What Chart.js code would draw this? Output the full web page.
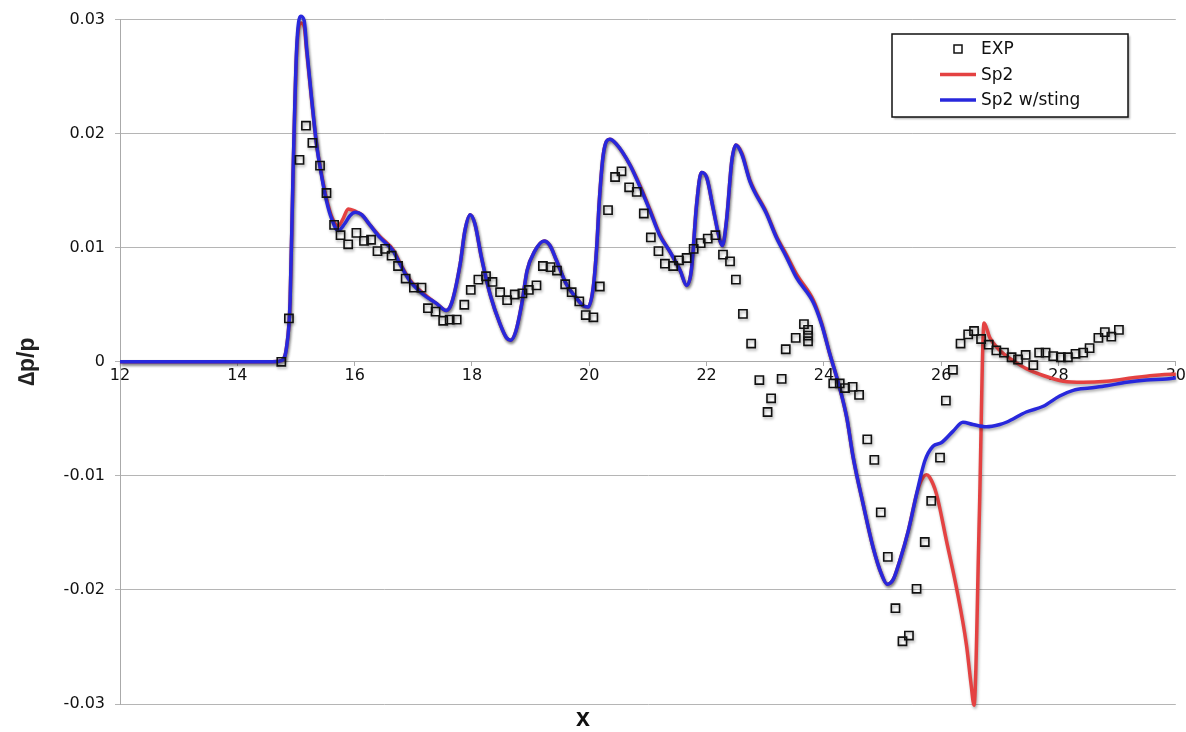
<!DOCTYPE html>
<html><head><meta charset="utf-8">
<script src="https://cdn.jsdelivr.net/npm/chart.js@4/dist/chart.umd.min.js"></script>
<style>html,body{margin:0;padding:0;background:#fff;}#wrap{position:relative;width:1186px;height:732px;}</style>
</head><body><div id="wrap"><canvas id="c" width="1186" height="732"></canvas></div>
<script>
// ---------- data ----------
const seriesLabels = ['EXP', 'Sp2', 'Sp2 w/sting'];

const expX = [14.75,14.88,15.06,15.17,15.28,15.41,15.52,15.65,15.76,15.89,16.03,16.16,16.28,16.39,16.52,16.63,16.74,16.87,17.01,17.14,17.25,17.38,17.51,17.62,17.74,17.87,17.98,18.11,18.24,18.35,18.48,18.60,18.73,18.86,18.97,19.10,19.21,19.34,19.45,19.59,19.70,19.83,19.94,20.07,20.18,20.32,20.44,20.55,20.68,20.81,20.93,21.05,21.18,21.29,21.43,21.53,21.66,21.78,21.90,22.02,22.15,22.28,22.40,22.50,22.62,22.76,22.90,23.04,23.10,23.28,23.35,23.52,23.66,23.73,23.73,23.73,24.16,24.27,24.36,24.49,24.60,24.74,24.86,24.97,25.09,25.22,25.34,25.45,25.58,25.72,25.83,25.98,26.08,26.20,26.33,26.46,26.56,26.68,26.81,26.94,27.07,27.20,27.31,27.44,27.57,27.67,27.78,27.91,28.04,28.16,28.29,28.42,28.53,28.68,28.79,28.90,29.03];
const expY = [0.0000,0.0038,0.0177,0.0207,0.0192,0.0172,0.0148,0.0120,0.0111,0.0103,0.0113,0.0106,0.0107,0.0097,0.0099,0.0093,0.0084,0.0073,0.0065,0.0065,0.0047,0.0044,0.0036,0.0037,0.0037,0.0050,0.0063,0.0072,0.0075,0.0070,0.0061,0.0054,0.0059,0.0060,0.0063,0.0067,0.0084,0.0083,0.0080,0.0068,0.0061,0.0053,0.0041,0.0039,0.0066,0.0133,0.0162,0.0167,0.0153,0.0149,0.0130,0.0109,0.0097,0.0086,0.0084,0.0089,0.0091,0.0099,0.0104,0.0108,0.0111,0.0094,0.0088,0.0072,0.0042,0.0016,-0.0016,-0.0044,-0.0032,-0.0015,0.0011,0.0021,0.0033,0.0028,0.0023,0.0018,-0.0019,-0.0019,-0.0023,-0.0022,-0.0029,-0.0068,-0.0086,-0.0132,-0.0171,-0.0216,-0.0245,-0.0240,-0.0199,-0.0158,-0.0122,-0.0084,-0.0034,-0.0007,0.0016,0.0024,0.0027,0.0020,0.0015,0.0010,0.0008,0.0004,0.0002,0.0006,-0.0003,0.0008,0.0008,0.0005,0.0004,0.0004,0.0007,0.0008,0.0012,0.0021,0.0026,0.0022,0.0028];

const sp2X = [12.0,14.6,14.75,14.84,14.90,14.95,15.01,15.08,15.14,15.18,15.27,15.35,15.44,15.52,15.61,15.72,15.80,15.89,16.01,16.12,16.26,16.43,16.66,16.77,16.94,17.17,17.40,17.56,17.65,17.80,17.88,17.97,18.05,18.16,18.31,18.48,18.59,18.66,18.75,18.85,18.94,19.07,19.23,19.33,19.44,19.61,19.78,19.90,19.98,20.07,20.13,20.17,20.24,20.35,20.46,20.69,20.86,21.03,21.20,21.37,21.55,21.66,21.74,21.83,21.91,22.00,22.11,22.23,22.27,22.34,22.43,22.50,22.60,22.74,23.02,23.19,23.36,23.53,23.82,23.96,24.10,24.27,24.39,24.50,24.67,24.84,24.98,25.08,25.18,25.29,25.44,25.58,25.66,25.75,25.80,25.92,26.09,26.26,26.43,26.51,26.56,26.65,26.73,26.83,27.00,27.23,27.45,27.74,28.08,28.42,28.82,29.27,29.61,29.95,30.0];
const sp2Y = [0,0,0.0001,0.0013,0.0053,0.0163,0.0270,0.0297,0.0294,0.0273,0.0228,0.0191,0.0163,0.0143,0.0127,0.0119,0.0125,0.0134,0.0132,0.0129,0.0120,0.0110,0.0098,0.0087,0.0072,0.0060,0.0051,0.0045,0.0051,0.0086,0.0115,0.0129,0.0121,0.0092,0.0059,0.0033,0.0021,0.0019,0.0027,0.0051,0.0080,0.0097,0.0106,0.0102,0.0089,0.0068,0.0056,0.0049,0.0048,0.0066,0.0103,0.0140,0.0182,0.0195,0.0191,0.0173,0.0155,0.0134,0.0112,0.0097,0.0080,0.0067,0.0080,0.0138,0.0166,0.0162,0.0135,0.0106,0.0102,0.0124,0.0176,0.0190,0.0183,0.0159,0.0131,0.0110,0.0094,0.0077,0.0054,0.0034,0.0007,-0.0023,-0.0049,-0.0084,-0.0125,-0.0163,-0.0186,-0.0195,-0.0191,-0.0175,-0.0148,-0.0116,-0.0104,-0.0099,-0.0101,-0.0116,-0.0157,-0.0198,-0.0248,-0.0283,-0.0301,-0.0135,0.0034,0.0021,0.0010,0.0001,-0.0006,-0.0012,-0.0017,-0.0018,-0.0017,-0.0014,-0.0012,-0.0011,-0.0011];

const stingX = [12.0,14.6,14.75,14.84,14.90,14.95,15.01,15.08,15.14,15.18,15.27,15.35,15.44,15.52,15.61,15.72,15.83,15.92,16.01,16.12,16.26,16.43,16.66,16.77,16.94,17.17,17.40,17.56,17.65,17.80,17.88,17.97,18.05,18.16,18.31,18.48,18.59,18.66,18.75,18.85,18.94,19.07,19.23,19.33,19.44,19.61,19.78,19.90,19.98,20.07,20.13,20.17,20.24,20.35,20.46,20.69,20.86,21.03,21.20,21.37,21.55,21.66,21.74,21.83,21.91,22.00,22.11,22.23,22.27,22.34,22.43,22.50,22.60,22.74,23.02,23.19,23.36,23.53,23.82,23.96,24.10,24.27,24.39,24.50,24.67,24.84,24.98,25.08,25.18,25.29,25.44,25.58,25.72,25.86,26.00,26.20,26.37,26.54,26.77,27.00,27.11,27.45,27.74,28.02,28.25,28.53,28.82,29.16,29.50,29.84,30.0];
const stingY = [0,0,0.0001,0.0013,0.0053,0.0165,0.0273,0.0303,0.0299,0.0276,0.0229,0.0191,0.0162,0.0141,0.0125,0.0115,0.0121,0.0128,0.0131,0.0129,0.0120,0.0109,0.0097,0.0086,0.0071,0.0059,0.0051,0.0045,0.0051,0.0086,0.0115,0.0129,0.0121,0.0092,0.0059,0.0033,0.0021,0.0019,0.0027,0.0051,0.0080,0.0097,0.0106,0.0102,0.0089,0.0068,0.0056,0.0049,0.0048,0.0066,0.0103,0.0140,0.0182,0.0195,0.0191,0.0173,0.0154,0.0133,0.0111,0.0097,0.0080,0.0067,0.0080,0.0138,0.0166,0.0162,0.0135,0.0106,0.0102,0.0124,0.0176,0.0190,0.0182,0.0158,0.0130,0.0109,0.0092,0.0074,0.0052,0.0033,0.0007,-0.0023,-0.0049,-0.0084,-0.0125,-0.0163,-0.0186,-0.0195,-0.0191,-0.0175,-0.0148,-0.0116,-0.0087,-0.0074,-0.0071,-0.0061,-0.0053,-0.0055,-0.0057,-0.0055,-0.0053,-0.0044,-0.0039,-0.0030,-0.0025,-0.0023,-0.0021,-0.0018,-0.0016,-0.0015,-0.0014];

const xTickValues = [12,14,16,18,20,22,24,26,28,30];
const xTickLabels = ['12','14','16','18','20','22','24','26','28','30'];
const yTickValues = [-0.03,-0.02,-0.01,0,0.01,0.02,0.03];
const yTickLabels = ['-0.03','-0.02','-0.01','0','0.01','0.02','0.03'];
const xTitle = 'x';
const yTitle = '\u2206p/p';

// ---------- build ----------
const pts = (xs, ys) => xs.map((x, i) => ({x: x, y: ys[i]}));
const labelFor = (vals, labels, v) => {
  const i = vals.findIndex(t => Math.abs(t - v) < 1e-9);
  return i >= 0 ? labels[i] : '';
};

const shadowPlugin = {
  id: 'shadow',
  beforeDatasetDraw(chart) {
    const ctx = chart.ctx;
    ctx.save();
    ctx.shadowColor = 'rgba(0,0,0,0.33)';
    ctx.shadowBlur = 3;
    ctx.shadowOffsetX = 1;
    ctx.shadowOffsetY = 2;
  },
  afterDatasetDraw(chart) { chart.ctx.restore(); }
};

const xTitlePlugin = {
  id: 'xTitle',
  afterDraw(chart) {
    const ctx = chart.ctx;
    ctx.save();
    ctx.font = 'bold 25px "Liberation Sans"';
    ctx.fillStyle = '#111';
    ctx.textAlign = 'center';
    ctx.textBaseline = 'middle';
    ctx.fillText(xTitle, chart.chartArea.left + 463, chart.chartArea.bottom + 15);
    ctx.restore();
  }
};

const legendPlugin = {
  id: 'boxLegend',
  afterDraw(chart) {
    const ctx = chart.ctx;
    const ds = chart.data.datasets;
    const bx = 892, by = 34, bw = 236, bh = 83;
    ctx.save();
    ctx.shadowColor = 'rgba(0,0,0,0.3)';
    ctx.shadowBlur = 2; ctx.shadowOffsetX = 2; ctx.shadowOffsetY = 2;
    ctx.fillStyle = '#ffffff';
    ctx.fillRect(bx, by, bw, bh);
    ctx.shadowColor = 'rgba(0,0,0,0)';
    ctx.strokeStyle = '#111';
    ctx.lineWidth = 1.5;
    ctx.strokeRect(bx, by, bw, bh);
    const rows = [49, 74.5, 100];
    ctx.font = '17px "DejaVu Sans"';
    ctx.textBaseline = 'middle';
    ctx.textAlign = 'left';
    ds.forEach((d, i) => {
      const y = rows[i];
      if (d.showLine) {
        ctx.strokeStyle = d.borderColor;
        ctx.lineWidth = 3.5;
        ctx.beginPath(); ctx.moveTo(940, y); ctx.lineTo(976, y); ctx.stroke();
      } else {
        ctx.strokeStyle = d.borderColor;
        ctx.lineWidth = 1.5;
        ctx.strokeRect(954, y - 4, 8, 8);
      }
      ctx.fillStyle = '#111';
      ctx.fillText(d.label, 981, y + 1);
    });
    ctx.restore();
  }
};

new Chart(document.getElementById('c'), {
  type: 'scatter',
  data: {
    datasets: [
      { label: seriesLabels[0], data: pts(expX, expY), showLine: false,
        pointStyle: 'rect', pointRadius: 5.8, pointHoverRadius: 5.8,
        borderColor: '#111', backgroundColor: 'rgba(255,255,255,0)', borderWidth: 1.6,
        order: 0, clip: 8 },
      { label: seriesLabels[1], data: pts(sp2X, sp2Y), showLine: true, pointRadius: 0,
        borderColor: 'rgb(228,66,66)', backgroundColor: 'rgb(228,66,66)', borderWidth: 3.5,
        cubicInterpolationMode: 'monotone', order: 2, clip: 8 },
      { label: seriesLabels[2], data: pts(stingX, stingY), showLine: true, pointRadius: 0,
        borderColor: 'rgb(40,40,220)', backgroundColor: 'rgb(40,40,220)', borderWidth: 3.5,
        cubicInterpolationMode: 'monotone', order: 1, clip: 8 }
    ]
  },
  options: {
    responsive: false, animation: false, devicePixelRatio: 1,
    layout: { padding: { left: 0, right: 10, top: 19, bottom: 0 } },
    plugins: { legend: { display: false }, tooltip: { enabled: false } },
    scales: {
      x: {
        type: 'linear', min: 12, max: 30, position: { y: 0 },
        afterBuildTicks: s => { s.ticks = xTickValues.map(v => ({ value: v })); },
        ticks: { callback: v => labelFor(xTickValues, xTickLabels, v), autoSkip: false, maxRotation: 0,
                 font: { family: 'DejaVu Sans', size: 16 }, color: '#111', padding: 0 },
        grid: { drawOnChartArea: false, drawTicks: true, tickLength: 4, color: '#aaa' },
        border: { color: '#aaa', width: 1 }
      },
      x2: {
        type: 'linear', min: 12, max: 30, position: 'bottom',
        ticks: { display: false }, grid: { display: false }, border: { display: false },
        title: { display: false },
        afterFit: s => { s.height = 28; }
      },
      y: {
        type: 'linear', min: -0.03, max: 0.03, position: 'left',
        afterBuildTicks: s => { s.ticks = yTickValues.map(v => ({ value: v })); },
        ticks: { callback: v => labelFor(yTickValues, yTickLabels, v),
                 font: { family: 'DejaVu Sans', size: 16 }, color: '#111', padding: 10 },
        grid: { color: '#b5b5b5', lineWidth: 1, tickLength: 5, drawTicks: true },
        border: { color: '#aaa', width: 1 },
        title: { display: true, text: yTitle, font: { family: 'Liberation Sans', size: 23, weight: 'bold' },
                 color: '#222', padding: { top: 14, bottom: 0 } },
        afterFit: s => { s.width = 120; }
      }
    }
  },
  plugins: [shadowPlugin, legendPlugin, xTitlePlugin]
});
</script></body></html>
